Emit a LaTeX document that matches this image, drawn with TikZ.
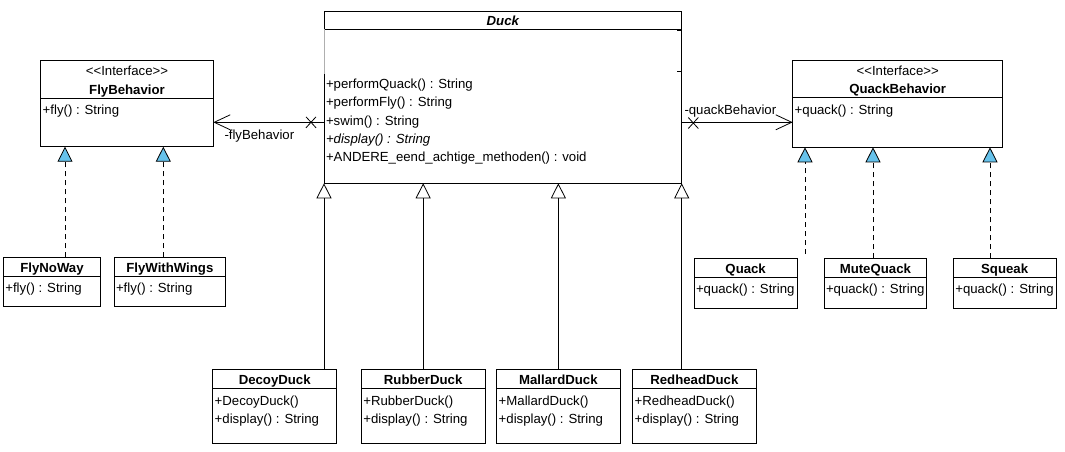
\documentclass[tikz,border=0pt]{standalone}
\usepackage{fontspec}
\setmainfont{Liberation Sans}
\usetikzlibrary{arrows.meta,shapes.misc}
\definecolor{realblue}{RGB}{102,194,235}
\definecolor{faintgray}{RGB}{175,175,175}
\tikzset{
 classbox/.style={draw=black, line width=0.9pt, fill=white, inner sep=0pt, outer sep=0pt},
 sepline/.style={line width=0.9pt},
 txt/.style={inner sep=0pt, outer sep=0pt, font=\fontsize{13.2}{15}\selectfont},
 nametxt/.style={inner sep=0pt, outer sep=0pt, font=\fontsize{13.2}{15}\selectfont\bfseries},
 gen/.style={line width=0.8pt, -{Triangle[length=15pt, width=15pt, fill=white, line width=0.8pt]}},
 realz/.style={line width=0.8pt, dash pattern=on 5pt off 4pt, -{Triangle[length=15pt, width=15pt, fill=realblue, line width=0.8pt]}},
 assoc/.style={line width=0.8pt, -{Straight Barb[length=16pt, width=15pt, line width=0.8pt]}},
 xmark/.style={draw, cross out, line width=0.8pt, minimum width=10pt, minimum height=11pt, inner sep=0pt, outer sep=0pt}
}
\newcommand{\umlcls}[6]{%
  \node[classbox, anchor=north west, minimum width={(#4-#2)*1pt}, minimum height={(#5-#3)*1pt}] (#1) at (#2,#3) {};
  \draw[sepline] (#2,#6) -- (#4,#6);
}
\begin{document}
\begin{tikzpicture}[x=1pt,y=-1pt]
\useasboundingbox (0,0) rectangle (1065,452);

% ---- Duck ----
\node[inner sep=0pt, outer sep=0pt, anchor=north west, minimum width=357.7pt, minimum height=172pt] (duck) at (324,11.3) {};
\draw[sepline] (324,74) -- (324,183.3) -- (681.7,183.3) -- (681.7,11.3) -- (324,11.3) -- (324,29.3) -- (681.7,29.3);
\draw[faintgray, line width=0.5pt] (324,29.3) -- (324,74);
\draw[line width=0.8pt] (677,30.8) -- (681.7,30.8);
\draw[line width=0.8pt] (677,71.7) -- (681.7,71.7);
\node[txt, anchor=base, font=\fontsize{13.2}{15}\selectfont\bfseries\itshape] (duck-name) at (502.85,25.3) {Duck};
\node[txt, anchor=base west] (duck-m1) at (326,88.5) {+performQuack() : String};
\node[txt, anchor=base west] (duck-m2) at (326,106.8) {+performFly() : String};
\node[txt, anchor=base west] (duck-m3) at (326,125.1) {+swim() : String};
\node[txt, anchor=base west] (duck-m4) at (326,143.4) {\textit{+display() : String}};
\node[txt, anchor=base west] (duck-m5) at (326,161.7) {+ANDERE\_eend\_achtige\_methoden() : void};

% ---- FlyBehavior ----
\umlcls{flybeh}{40.7}{60.7}{213.3}{146.7}{98}
\node[txt, anchor=base] (flybeh-st) at (127,75) {<\kern0pt<Interface>\kern0pt>};
\node[nametxt, anchor=base] (flybeh-name) at (127,94) {FlyBehavior};
\node[txt, anchor=base west] (flybeh-m1) at (42.7,114.5) {+fly() : String};

% ---- QuackBehavior ----
\umlcls{quackbeh}{792.7}{60.7}{1002.7}{147.3}{97.7}
\node[txt, anchor=base] (quackbeh-st) at (897.7,75) {<\kern0pt<Interface>\kern0pt>};
\node[nametxt, anchor=base] (quackbeh-name) at (897.7,93.7) {QuackBehavior};
\node[txt, anchor=base west] (quackbeh-m1) at (794.7,114.2) {+quack() : String};

% ---- Fly implementations ----
\umlcls{flynoway}{3.3}{257.3}{100.7}{306.7}{276.3}
\node[nametxt, anchor=base] (flynoway-name) at (52,272.3) {FlyNoWay};
\node[txt, anchor=base west] (flynoway-m1) at (5.3,292.8) {+fly() : String};
\umlcls{flywithwings}{114}{257.3}{225.7}{306.7}{276.3}
\node[nametxt, anchor=base] (flywithwings-name) at (169.85,272.3) {FlyWithWings};
\node[txt, anchor=base west] (flywithwings-m1) at (116,292.8) {+fly() : String};

% ---- Quack implementations ----
\umlcls{quack}{694}{258.3}{797.3}{308.3}{277.3}
\node[nametxt, anchor=base] (quack-name) at (745.65,273.3) {Quack};
\node[txt, anchor=base west] (quack-m1) at (696,293.8) {+quack() : String};
\umlcls{mutequack}{824}{258.3}{926.7}{308.3}{277.3}
\node[nametxt, anchor=base] (mutequack-name) at (875.35,273.3) {MuteQuack};
\node[txt, anchor=base west] (mutequack-m1) at (826,293.8) {+quack() : String};
\umlcls{squeak}{953.3}{258.3}{1056}{308.3}{277.3}
\node[nametxt, anchor=base] (squeak-name) at (1004.65,273.3) {Squeak};
\node[txt, anchor=base west] (squeak-m1) at (955.3,293.8) {+quack() : String};

% ---- Duck subclasses ----
\umlcls{decoy}{212.7}{369.5}{336.7}{443.3}{388.3}
\node[nametxt, anchor=base] (decoy-name) at (274.7,384.3) {DecoyDuck};
\node[txt, anchor=base west] (decoy-m1) at (214.7,405) {+DecoyDuck()};
\node[txt, anchor=base west] (decoy-m2) at (214.7,423.3) {+display() : String};
\umlcls{rubber}{361.3}{369.5}{485}{443.3}{388.3}
\node[nametxt, anchor=base] (rubber-name) at (423.15,384.3) {RubberDuck};
\node[txt, anchor=base west] (rubber-m1) at (363.3,405) {+RubberDuck()};
\node[txt, anchor=base west] (rubber-m2) at (363.3,423.3) {+display() : String};
\umlcls{mallard}{496.7}{369.5}{620}{443.3}{388.3}
\node[nametxt, anchor=base] (mallard-name) at (558.35,384.3) {MallardDuck};
\node[txt, anchor=base west] (mallard-m1) at (498.7,405) {+MallardDuck()};
\node[txt, anchor=base west] (mallard-m2) at (498.7,423.3) {+display() : String};
\umlcls{redhead}{632.7}{369.5}{756}{443.3}{388.3}
\node[nametxt, anchor=base] (redhead-name) at (694.35,384.3) {RedheadDuck};
\node[txt, anchor=base west] (redhead-m1) at (634.7,405) {+RedheadDuck()};
\node[txt, anchor=base west] (redhead-m2) at (634.7,423.3) {+display() : String};

% ---- Generalizations ----
\draw[gen] (decoy.north -| duck.south west) -- (duck.south west);
\draw[gen] (rubber.north) -- (rubber.north |- duck.south);
\draw[gen] (mallard.north) -- (mallard.north |- duck.south);
\draw[gen] (redhead.north -| duck.south east) -- (duck.south east);

% ---- Realizations ----
\coordinate (rf1) at (65,257.3);
\coordinate (rf2) at (163.3,257.3);
\coordinate (rq1) at (805,254);
\coordinate (rq2) at (873,258.3);
\coordinate (rq3) at (990,258.3);
\draw[realz] (rf1) -- (rf1 |- flybeh.south);
\draw[realz] (rf2) -- (rf2 |- flybeh.south);
\draw[realz] (rq1) -- (rq1 |- quackbeh.south);
\draw[realz] (rq2) -- (rq2 |- quackbeh.south);
\draw[realz] (rq3) -- (rq3 |- quackbeh.south);

% ---- Associations ----
\coordinate (dfly) at (324,122.3);
\draw[assoc] (dfly) -- (dfly -| flybeh.east);
\node[xmark] (xfly) at (311,122.3) {};
\node[txt, anchor=base west] (lblfly) at (224.5,139) {-flyBehavior};
\coordinate (dquack) at (681.7,122.3);
\draw[assoc] (dquack) -- (dquack -| quackbeh.west);
\node[xmark] (xquack) at (693.3,123) {};
\node[txt, anchor=base west] (lblquack) at (684.5,114) {-quackBehavior};
\end{tikzpicture}
\end{document}
